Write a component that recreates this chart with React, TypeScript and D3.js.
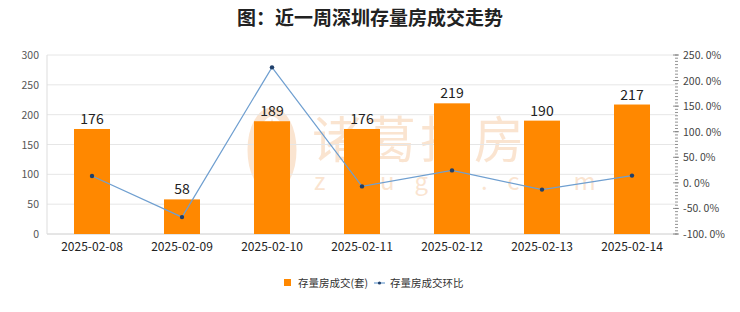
import React from 'react'
import * as d3 from 'd3'

const dates = ['2025-02-08', '2025-02-09', '2025-02-10', '2025-02-11', '2025-02-12', '2025-02-13', '2025-02-14']
const deals = [176, 58, 189, 176, 219, 190, 217]
const momPct = [13.5, -67.0, 225.9, -6.9, 24.4, -13.2, 14.2]
const leftTicks = [0, 50, 100, 150, 200, 250, 300]
const rightTicks = [-100, -50, 0, 50, 100, 150, 200, 250]

const W = 740
const H = 312
const left = 47
const right = 677
const top = 55
const bottom = 234
const font = '"Noto Sans CJK SC", "Noto Sans", sans-serif'

export default function App() {
	const x = d3.scaleBand<string>().domain(dates).range([left, right]).paddingInner(0.6).paddingOuter(0.3)
	const xc = (d: string) => (x(d) as number) + x.bandwidth() / 2
	const y = d3.scaleLinear().domain([0, 300]).range([bottom, top])
	const y2 = d3.scaleLinear().domain([-100, 250]).range([bottom, top])
	const line = d3.line<number>()
		.x((d, i) => xc(dates[i]))
		.y(d => y2(d))
	const minor = d3.range(-100, 250.01, 6.25)

	return (
		<svg width={W} height={H} style={{ position: 'absolute', left: 0, top: 0, background: '#fff' }} fontFamily={font}>
			<text x={370} y={25} textAnchor='middle' fontSize={19} fontWeight='bold' fill='#222'>图：近一周深圳存量房成交走势</text>

			{/* watermark */}
			<g opacity={0.28} fill='#f0a05a'>
				<ellipse cx={272} cy={150} rx={20} ry={38} fill='none' stroke='#f0a05a' strokeWidth={9} />
				<path d='M272,118 Q262,150 272,188 Q282,150 272,118 Z' />
				<text x={312} y={158} fontSize={50} letterSpacing={4}>诸葛找房</text>
				<text x={314} y={190} fontSize={24} letterSpacing={20}>zhuge.com</text>
			</g>

			{leftTicks.map(t => (
				<g key={t}>
					<line x1={left} x2={right} y1={y(t)} y2={y(t)} stroke={t === 0 ? '#ccc' : '#e6e6e6'} strokeWidth={1} />
					<text x={39} y={y(t) + 4} textAnchor='end' fontSize={10.5} fill='#555'>{t}</text>
				</g>
			))}
			<line x1={left} x2={left} y1={top} y2={bottom} stroke='#ddd' />

			{minor.map(t => (
				<line key={t} x1={675} x2={678} y1={y2(t)} y2={y2(t)} stroke='#777' strokeWidth={0.8} />
			))}
			{rightTicks.map(t => (
				<g key={t}>
					<line x1={673} x2={679} y1={y2(t)} y2={y2(t)} stroke='#777' strokeWidth={0.8} />
					<text x={683} y={y2(t) + 4} fontSize={10.5} fill='#444'>{t.toFixed(1).replace('.', '. ')}%</text>
				</g>
			))}

			{dates.map((d, i) => (
				<g key={d}>
					<rect x={x(d)} y={y(deals[i])} width={x.bandwidth()} height={bottom - y(deals[i])} fill='#ff8800' />
					<text x={xc(d)} y={y(deals[i]) - 5} textAnchor='middle' fontSize={14} fill='#222'>{deals[i]}</text>
					<text x={xc(d)} y={251} textAnchor='middle' fontSize={12} fill='#222'>{d}</text>
				</g>
			))}

			<path d={line(momPct) as string} fill='none' stroke='#6f9fd0' strokeWidth={1.2} />
			{momPct.map((v, i) => (
				<circle key={i} cx={xc(dates[i])} cy={y2(v)} r={2.2} fill='#1f3f6a' />
			))}

			<g fontSize={10.5} fill='#333'>
				<rect x={284} y={279} width={7} height={7} fill='#ff8800' />
				<text x={298} y={287}>存量房成交(套)</text>
				<line x1={374} x2={385} y1={283} y2={283} stroke='#6f9fd0' strokeWidth={1.2} />
				<circle cx={379.5} cy={283} r={1.6} fill='#1f3f6a' />
				<text x={390} y={287}>存量房成交环比</text>
			</g>
		</svg>
	)
}
